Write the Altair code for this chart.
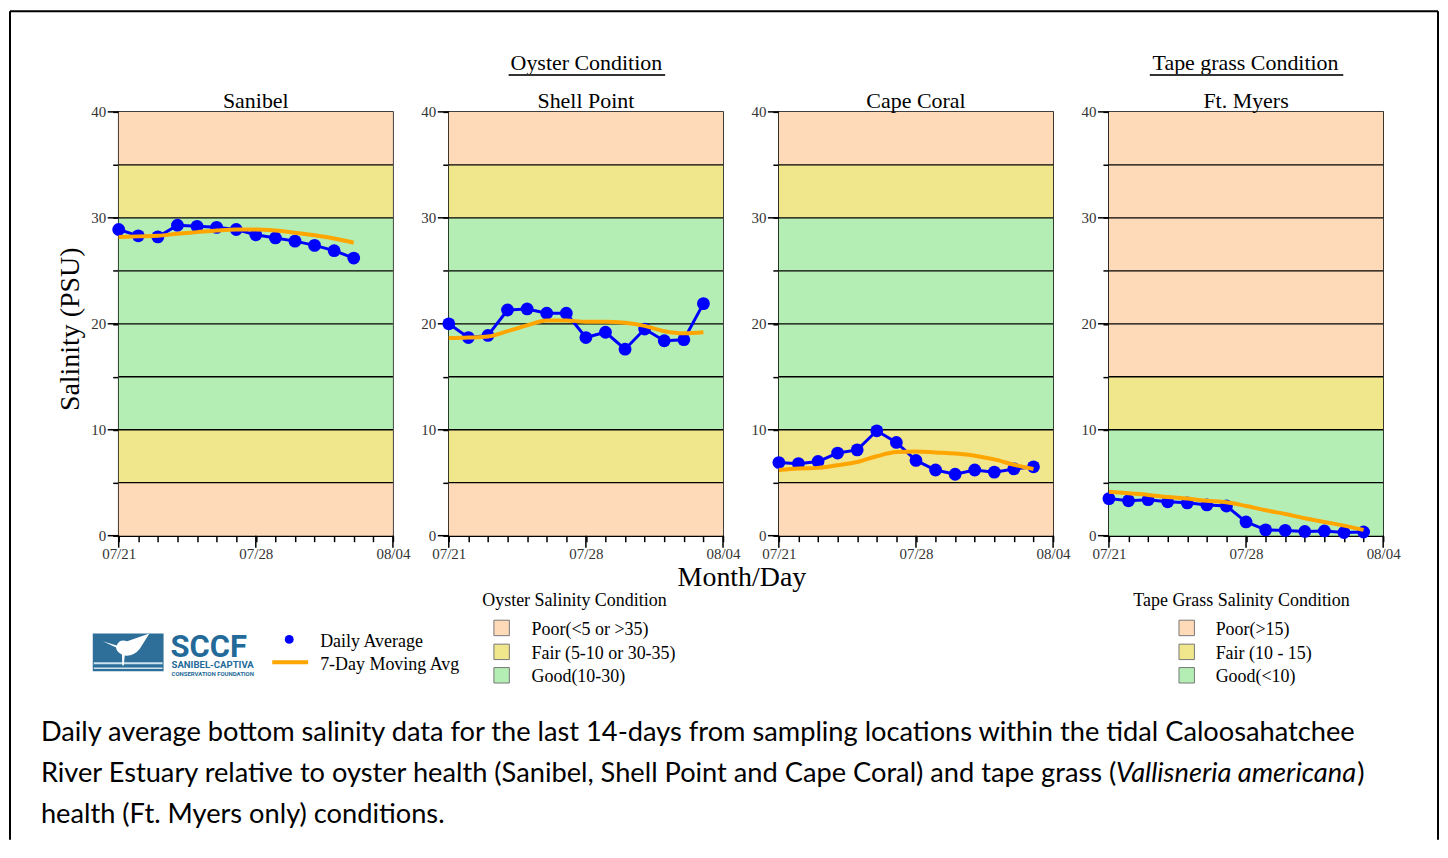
import json
import altair as alt
import pandas as pd

# ---------------- data ----------------
DAYS = ["07/21", "07/22", "07/23", "07/24", "07/25", "07/26", "07/27", "07/28",
        "07/29", "07/30", "07/31", "08/01", "08/02", "08/03", "08/04"]
MAJOR_DAYS = ["07/21", "07/28", "08/04"]
Y_TICKS = [0, 5, 10, 15, 20, 25, 30, 35, 40]
Y_MAJOR = [0, 10, 20, 30, 40]
GRID_LEVELS = [5, 10, 15, 20, 25, 30, 35]

SITES = ["Sanibel", "Shell Point", "Cape Coral", "Ft. Myers"]

sanibel_daily = [28.9, 28.3, 28.2, 29.3, 29.2, 29.1, 28.9, 28.4, 28.1, 27.8, 27.4, 26.9, 26.2]
sanibel_ma = [28.2, 28.25, 28.3, 28.5, 28.65, 28.8, 28.9, 28.9, 28.8, 28.6, 28.35, 28.05, 27.65]

shell_daily = [20.0, 18.7, 18.9, 21.3, 21.4, 21.0, 21.0, 18.7, 19.2, 17.6, 19.5, 18.4, 18.5, 21.9]
shell_ma = [18.65, 18.7, 18.8, 19.3, 19.85, 20.3, 20.3, 20.2, 20.2, 20.1, 19.8, 19.3, 19.1, 19.2]

cape_daily = [6.9, 6.8, 7.0, 7.8, 8.1, 9.9, 8.8, 7.1, 6.2, 5.8, 6.2, 6.0, 6.3, 6.5]
cape_ma = [6.2, 6.35, 6.4, 6.65, 6.95, 7.5, 7.9, 7.95, 7.85, 7.75, 7.55, 7.2, 6.7, 6.3]

ftm_daily = [3.5, 3.3, 3.4, 3.2, 3.1, 2.9, 2.8, 1.3, 0.55, 0.5, 0.4, 0.45, 0.3, 0.35]
ftm_ma = [4.15, 4.0, 3.85, 3.65, 3.5, 3.3, 3.15, 2.8, 2.4, 2.05, 1.65, 1.3, 0.95, 0.55]

OYSTER_BREAKS = [0, 5, 10, 30, 35, 40]
OYSTER_CLASSES = ["Poor", "Fair", "Good", "Fair", "Poor"]
TAPE_BREAKS = [0, 10, 15, 40]
TAPE_CLASSES = ["Good", "Fair", "Poor"]

CLASS_NAMES = ["Poor", "Fair", "Good"]
CLASS_COLORS = ["#FFDAB9", "#F0E68C", "#B4EEB4"]
OYSTER_LABELS = ["Poor(<5 or >35)", "Fair (5-10 or 30-35)", "Good(10-30)"]
TAPE_LABELS = ["Poor(>15)", "Fair (10 - 15)", "Good(<10)"]

CAPTION_1 = "Daily average bottom salinity data for the last 14-days from sampling locations within the tidal Caloosahatchee"
CAPTION_2A = "River Estuary relative to oyster health (Sanibel, Shell Point and Cape Coral) and tape grass ("
CAPTION_2B = "Vallisneria americana"
CAPTION_2C = ")"
CAPTION_3 = "health (Ft. Myers only) conditions."

SERIF = "Liberation Serif"
SANS = "Lato"
CAP_SIZE = 27.3
BLUE = "#0000FF"
ORANGE = "#FFA500"
LOGO_BLUE = "#236a98"

W, H = 275, 425
PANEL_LEFT = [118, 449, 780, 1111]
PANEL_TOP = 110


def txt(s, x, y, size=18, font=SERIF, align="left", baseline="alphabetic",
        color="black", weight="normal", style="normal", angle=0):
    mk = dict(align=align, baseline=baseline, font=font, fontSize=size,
              fontWeight=weight, fontStyle=style, color=color)
    if angle:
        mk["angle"] = angle
    return alt.Chart(pd.DataFrame({"t": [s]})).mark_text(**mk).encode(
        x=alt.value(x), y=alt.value(y), text="t:N")


def seg(x1, y1, x2, y2, color="black", width=2):
    return alt.Chart(pd.DataFrame({"a": [0]})).mark_rule(
        color=color, strokeWidth=width, strokeCap="butt").encode(
        x=alt.value(x1), y=alt.value(y1), x2=alt.value(x2), y2=alt.value(y2))


label_expr_x = f"indexof({json.dumps(MAJOR_DAYS)}, datum.value) >= 0 ? datum.label : ''"
xscale = alt.Scale(type="point", domain=DAYS, padding=0)
yscale = alt.Scale(domain=[0, 40], nice=False, zero=False)
xaxis = alt.Axis(values=DAYS, labelExpr=label_expr_x, labelAngle=0, tickSize=6,
                 labelPadding=5, title=None, grid=False, labelOverlap=False)
yaxis = alt.Axis(values=Y_TICKS, labelExpr="datum.value % 10 === 0 ? datum.label : ''",
                 tickSize=6, labelPadding=7, title=None, grid=False)
color_scale = alt.Scale(domain=CLASS_NAMES, range=CLASS_COLORS)


def panel(site, daily, ma, breaks, classes, extras):
    df_d = pd.DataFrame({"date": DAYS[:len(daily)], "sal": daily})
    df_m = pd.DataFrame({"date": DAYS[:len(ma)], "sal": ma})
    bands = pd.DataFrame({"lo": breaks[:-1], "hi": breaks[1:], "cls": classes})

    X = alt.X("date:O", scale=xscale, axis=xaxis)
    Y = alt.Y("sal:Q", scale=yscale, axis=yaxis)

    band_layer = alt.Chart(bands).mark_rect().encode(
        y=alt.Y("lo:Q", scale=yscale, axis=yaxis), y2="hi:Q",
        color=alt.Color("cls:N", scale=color_scale, legend=None))
    grid_layer = alt.Chart(pd.DataFrame({"v": GRID_LEVELS})).mark_rule(
        color="black", strokeWidth=1.3).encode(y=alt.Y("v:Q", scale=yscale, axis=yaxis))
    xmaj = alt.Chart(pd.DataFrame({"date": MAJOR_DAYS})).mark_rule(
        color="black", strokeWidth=1.5).encode(x=X, y=alt.value(H), y2=alt.value(H + 12))
    ymaj = alt.Chart(pd.DataFrame({"v": Y_MAJOR})).mark_rule(
        color="black", strokeWidth=1.5).encode(y=alt.Y("v:Q", scale=yscale, axis=yaxis),
                                               x=alt.value(-11), x2=alt.value(0))
    daily_line = alt.Chart(df_d).mark_line(color=BLUE, strokeWidth=3).encode(x=X, y=Y)
    daily_pts = alt.Chart(df_d).mark_circle(color=BLUE, size=165, opacity=1).encode(x=X, y=Y)
    ma_line = alt.Chart(df_m).mark_line(color=ORANGE, strokeWidth=4,
                                        interpolate="monotone").encode(x=X, y=Y)
    title = txt(site, W / 2, -4, size=22, align="center")
    layers = [band_layer, grid_layer, xmaj, ymaj, daily_line, daily_pts, ma_line, title] + extras
    return alt.layer(*layers).properties(width=W, height=H)


# ---------- annotations (page coordinates converted to panel coordinates) ----------
def rx(px, i=0):
    return px - PANEL_LEFT[i]


def ry(py):
    return py - PANEL_TOP


bird_path = ("M -1 -0.30 L -0.42 -0.12 Q -0.30 -0.42 0.02 -0.30 L 0.95 -0.62 "
             "L 0.55 0.02 Q 0.30 0.34 -0.08 0.30 L -0.12 0.72 L -0.18 0.72 "
             "L -0.20 0.26 Q -0.44 0.12 -0.44 -0.04 Z")

san_extra = [
    # outer frame
    seg(rx(9), ry(9), rx(1441), ry(9)),
    seg(rx(9), ry(9), rx(9), ry(840)),
    seg(rx(1441), ry(9), rx(1441), ry(840)),
    # y-axis title
    txt("Salinity (PSU)", rx(70), ry(328), size=28, align="center", baseline="middle", angle=270),
    # logo
    alt.Chart(pd.DataFrame({"a": [0]})).mark_rect(color="#2e6f9a").encode(
        x=alt.value(rx(92)), x2=alt.value(rx(163)), y=alt.value(ry(633)), y2=alt.value(ry(671))),
    seg(rx(93), ry(663), rx(162), ry(663), color="#cfe3ef", width=2),
    seg(rx(93), ry(668), rx(162), ry(668), color="#cfe3ef", width=1.5),
    alt.Chart(pd.DataFrame({"a": [0]})).mark_point(
        shape=bird_path, filled=True, color="white", opacity=1, size=2300).encode(
        x=alt.value(rx(126)), y=alt.value(ry(648))),
    txt("SCCF", rx(170), ry(657), size=31, font="Roboto", weight="bold", color=LOGO_BLUE),
    txt("SANIBEL-CAPTIVA", rx(171), ry(668), size=9.6, font="Roboto", weight="bold", color=LOGO_BLUE),
    txt("CONSERVATION FOUNDATION", rx(171), ry(675.5), size=6.0, font="Roboto", weight="bold", color=LOGO_BLUE),
    # series legend
    alt.Chart(pd.DataFrame({"a": [0]})).mark_circle(color=BLUE, size=80, opacity=1).encode(
        x=alt.value(rx(289)), y=alt.value(ry(639))),
    seg(rx(272), ry(662), rx(308), ry(662), color=ORANGE, width=4),
    txt("Daily Average", rx(320), ry(647), size=18),
    txt("7-Day Moving Avg", rx(320), ry(670), size=18),
    # caption
    txt(CAPTION_1, rx(40), ry(741), size=CAP_SIZE, font=SANS),
    txt(CAPTION_2A, rx(40), ry(782), size=CAP_SIZE, font=SANS),
    txt(CAPTION_2B, rx(1118), ry(782), size=CAP_SIZE, font=SANS, style="italic"),
    txt(CAPTION_2C, rx(1360), ry(782), size=CAP_SIZE, font=SANS),
    txt(CAPTION_3, rx(40), ry(823), size=CAP_SIZE, font=SANS),
]


def class_legend(title, labels, title_cx, sq_x, lab_x, i):
    items = [txt(title, rx(title_cx, i), ry(606), size=18, align="center")]
    rows_y = [627.5, 651.5, 675]
    for lab, col, yy in zip(labels, CLASS_COLORS, rows_y):
        items.append(alt.Chart(pd.DataFrame({"a": [0]})).mark_point(
            shape="square", filled=True, fill=col, stroke="#777", strokeWidth=1,
            opacity=1, size=240).encode(x=alt.value(rx(sq_x, i)), y=alt.value(ry(yy))))
        items.append(txt(lab, rx(lab_x, i), ry(yy + 7), size=18))
    return items


shell_extra = [
    txt("Oyster Condition", rx(587, 1), ry(68), size=22, align="center"),
    seg(rx(509, 1), ry(73), rx(666, 1), ry(73), color="#333", width=2),
    txt("Month/Day", rx(743, 1), ry(585), size=28, align="center"),
] + class_legend("Oyster Salinity Condition", OYSTER_LABELS, 575, 502, 532, 1)

cape_extra = []

ftm_extra = [
    txt("Tape grass Condition", rx(1248, 3), ry(68), size=22, align="center"),
    seg(rx(1152, 3), ry(73), rx(1346, 3), ry(73), color="#333", width=2),
] + class_legend("Tape Grass Salinity Condition", TAPE_LABELS, 1244, 1189, 1218, 3)

p1 = panel(SITES[0], sanibel_daily, sanibel_ma, OYSTER_BREAKS, OYSTER_CLASSES, san_extra)
p2 = panel(SITES[1], shell_daily, shell_ma, OYSTER_BREAKS, OYSTER_CLASSES, shell_extra)
p3 = panel(SITES[2], cape_daily, cape_ma, OYSTER_BREAKS, OYSTER_CLASSES, cape_extra)
p4 = panel(SITES[3], ftm_daily, ftm_ma, TAPE_BREAKS, TAPE_CLASSES, ftm_extra)

chart = alt.HConcatChart(hconcat=[p1, p2, p3, p4], spacing=56, bounds="flush",
                         padding=0, background="white").configure_view(
    stroke="black", strokeWidth=1.5
).configure_axis(
    domainColor="black", domainWidth=1.5, tickColor="black", tickWidth=1.5,
    labelFont=SERIF, labelFontSize=15, labelColor="#333"
)

chart.save("out.html", embed_options={"renderer": "svg", "actions": False})
